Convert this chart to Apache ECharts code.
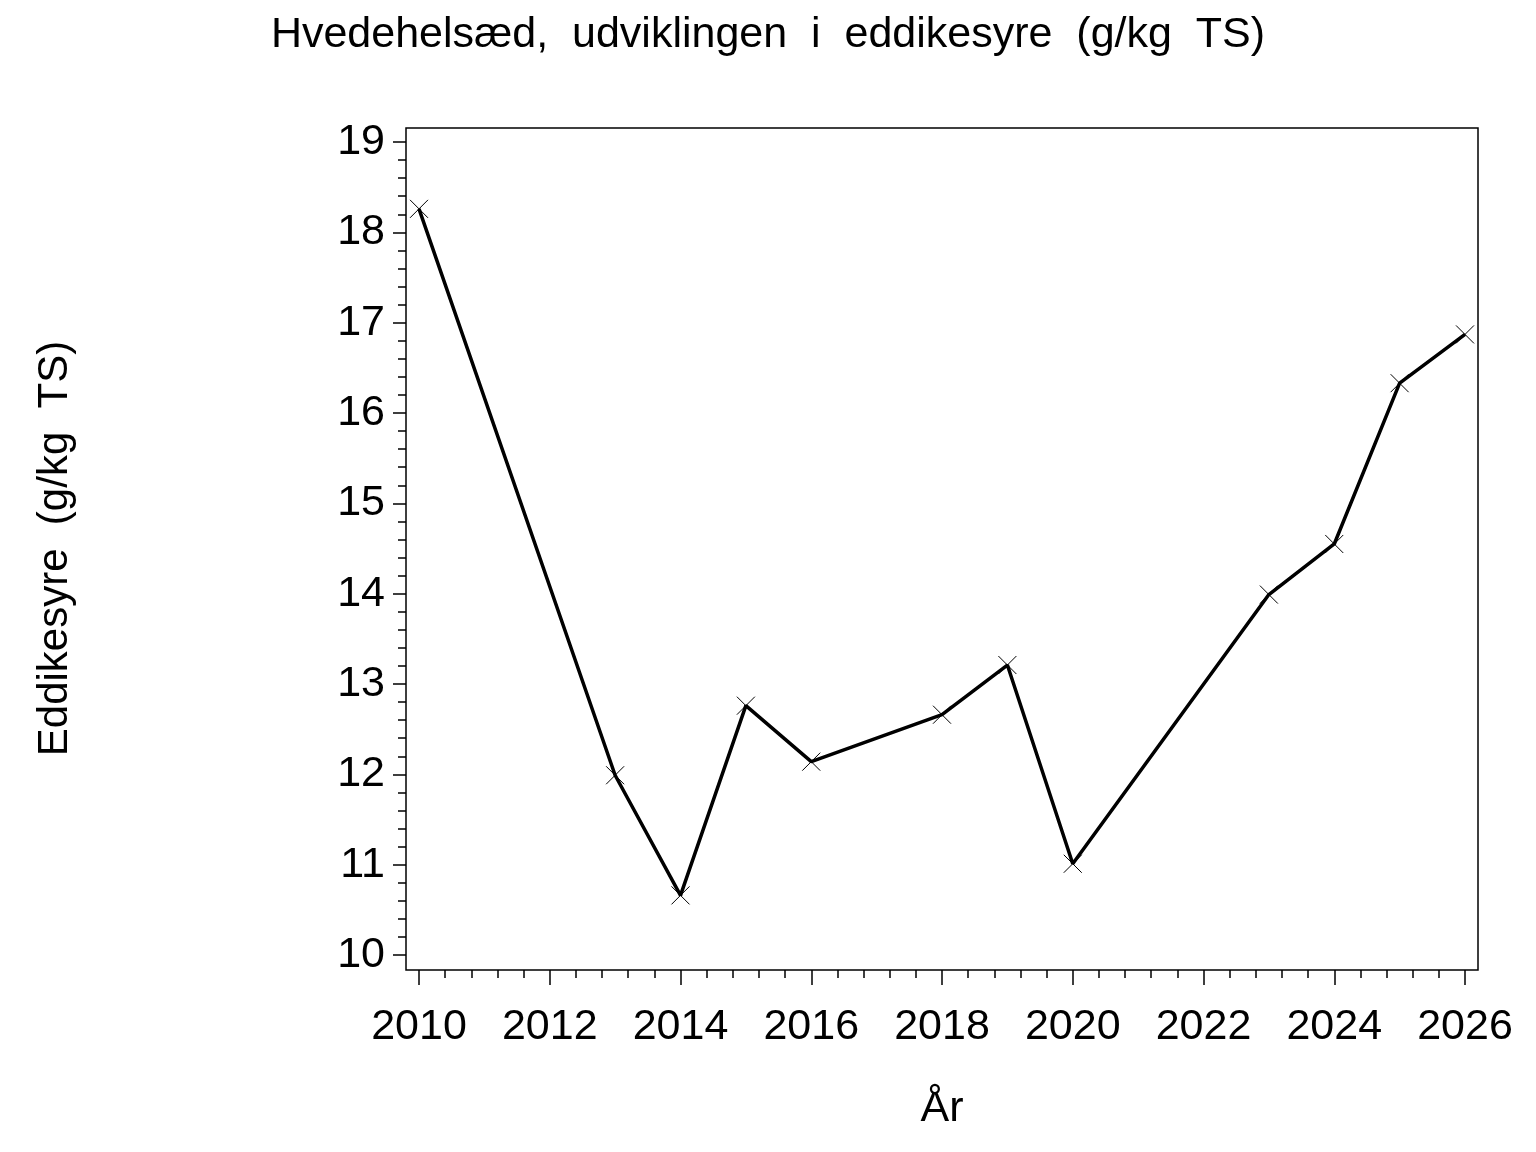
<!DOCTYPE html>
<html>
<head>
<meta charset="utf-8">
<script src="https://cdn.jsdelivr.net/npm/echarts@6/dist/echarts.min.js"></script>
<style>
  html, body { margin: 0; padding: 0; background: #fff; }
  #chart { width: 1536px; height: 1152px; }
</style>
</head>
<body>
<div id="chart"></div>
<script>
var years = [2010, 2013, 2014, 2015, 2016, 2018, 2019, 2020, 2023, 2024, 2025, 2026];
var eddikesyre = [18.26, 11.99, 10.66, 12.76, 12.14, 12.66, 13.21, 11.01, 13.99, 14.55, 16.33, 16.87];

var font = '"Liberation Sans", Arial, sans-serif';

var points = years.map(function (y, i) { return [y, eddikesyre[i]]; });

var myChart = echarts.init(document.getElementById('chart'));
myChart.setOption({
    animation: false,
    backgroundColor: '#fff',
    title: {
        text: 'Hvedehelsæd,  udviklingen  i  eddikesyre  (g/kg  TS)',
        left: 'center',
        top: 9,
        textStyle: { fontFamily: font, fontSize: 43, fontWeight: 'normal', color: '#000' }
    },
    grid: [
        // data area
        { left: 419, right: 71, top: 142, bottom: 197 },
        // frame
        { left: 406, right: 58, top: 128, bottom: 182, show: true, borderColor: '#000', borderWidth: 1.5 }
    ],
    xAxis: [
        {
            type: 'value',
            gridIndex: 0,
            min: 2010,
            max: 2026,
            interval: 2,
            offset: 15,
            name: 'År',
            nameLocation: 'middle',
            nameGap: 118,
            nameTextStyle: { fontFamily: font, fontSize: 43, color: '#000' },
            axisLine: { show: false },
            axisTick: { show: true, inside: false, length: 15, lineStyle: { color: '#000', width: 1.5 } },
            minorTick: { show: true, splitNumber: 5, length: 8, lineStyle: { color: '#000', width: 1.5 } },
            splitLine: { show: false },
            axisLabel: {
                fontFamily: font, fontSize: 43, color: '#000', margin: 36,
                formatter: function (v) { return String(v); }
            }
        },
        { type: 'value', gridIndex: 1, show: false }
    ],
    yAxis: [
        {
            type: 'value',
            gridIndex: 0,
            min: 10,
            max: 19,
            interval: 1,
            offset: 13,
            name: 'Eddikesyre  (g/kg  TS)',
            nameLocation: 'middle',
            nameGap: 330,
            nameTextStyle: { fontFamily: font, fontSize: 42, color: '#000' },
            axisLine: { show: false },
            axisTick: { show: true, inside: false, length: 13, lineStyle: { color: '#000', width: 1.5 } },
            minorTick: { show: true, splitNumber: 5, length: 8, lineStyle: { color: '#000', width: 1.5 } },
            splitLine: { show: false },
            axisLabel: { fontFamily: font, fontSize: 43, color: '#000', margin: 21 }
        },
        { type: 'value', gridIndex: 1, show: false }
    ],
    series: [
        {
            type: 'line',
            xAxisIndex: 0,
            yAxisIndex: 0,
            data: points,
            symbol: 'path://M0,0L10,10M10,0L0,10',
            symbolSize: 18,
            itemStyle: { color: 'rgba(0,0,0,0)', borderColor: '#000', borderWidth: 1 },
            lineStyle: { color: '#000', width: 3.5 },
            emphasis: { disabled: true }
        }
    ]
});
</script>
</body>
</html>
